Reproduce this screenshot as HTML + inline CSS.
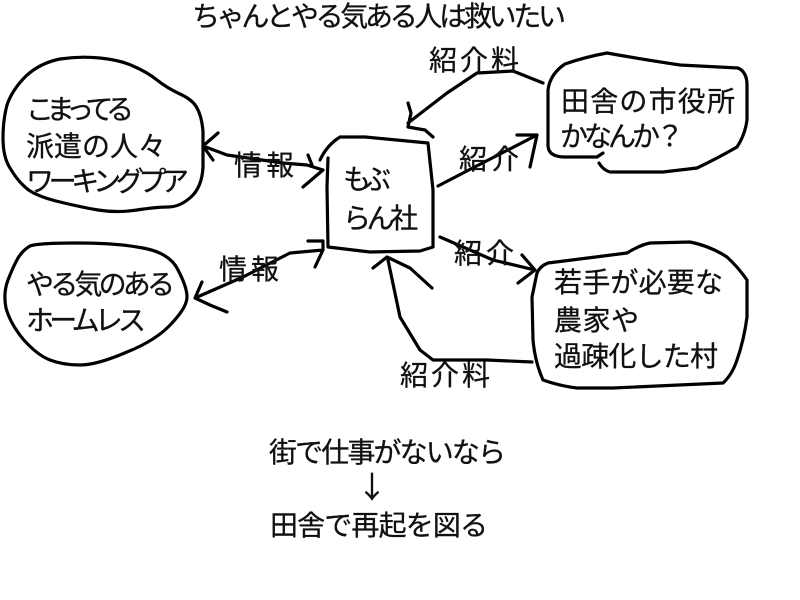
<!DOCTYPE html>
<html><head><meta charset="utf-8"><style>
html,body{margin:0;padding:0;background:#fff}
svg{display:block}
text{font-family:"Liberation Sans","Noto Sans CJK JP",sans-serif;font-size:28px;fill:#111;stroke:#111;stroke-width:.3}
path{fill:none;stroke:#000;stroke-width:3.2;stroke-linejoin:round;stroke-linecap:round}
</style></head><body>
<svg width="800" height="600" viewBox="0 0 800 600" xmlns="http://www.w3.org/2000/svg">
<rect width="800" height="600" fill="#fff" style="stroke:none"/>
<path d="M100,58 Q120,60 133,66 Q147,72 157,80 Q167,88 180,94 Q193,100 197,108 Q202,117 203,132 Q203,147 203,167 Q202,187 191,197 Q180,207 168,207 Q157,207 137,210 Q117,213 98,210 Q80,207 56,201 Q33,195 25,187 Q17,180 10,168 Q3,157 3,138 Q3,120 7,105 Q12,90 26,76 Q40,63 60,59 Q80,56 100,58 Z"/>
<path d="M77,243 Q117,243 143,248 Q170,253 178,270 Q187,287 187,297 Q187,307 172,323 Q157,340 127,352 Q97,365 80,365 Q63,365 50,360 Q37,355 23,339 Q10,323 6,308 Q3,293 8,280 Q13,267 18,258 Q23,250 30,246 Q38,243 77,243 Z"/>
<path d="M320,160 Q327,145 340,137 L365,137 L428,143 L433,190 L433,247 L420,251 L370,252 L328,247 L327,187 L328,158"/>
<path d="M537,273 Q540,266 548,263 L627,253 Q640,245 650,243 L690,242 Q710,246 727,257 Q738,267 747,280 L747,317 Q744,340 737,360 Q732,375 723,383 L613,388 L577,388 Q560,386 543,380 Q535,362 533,340 L532,297 Z"/>
<path d="M603,153 L597,157 L565,157 Q548,157 548,145 L548,90 Q550,74 565,64 Q585,57 607,53 Q640,59 680,65 L738,68 Q747,72 747,85 L747,120 Q745,135 737,147 Q718,158 697,168 L663,172 L610,172 Q603,170 599,163"/>
<path d="M203,146 L227,155 L283,163 L307,165 L323,170 M218,133 L203,146 L213,160 M308,155 L312,165 M323,170 L303,187"/>
<path d="M195,298 L243,277 L290,253 L323,250 M202,282 L195,298 L210,305 L227,312 M308,241 L323,241 L323,250 L315,267"/>
<path d="M543,83 L513,71 L477,73 L447,93 L408,123 M408,103 L411,113 L408,127 L425,130 L433,137"/>
<path d="M438,186 L463,173 L537,135 M517,135 L537,135 L530,167"/>
<path d="M440,237 L493,260 L535,270 M522,255 L535,270 L518,283"/>
<path d="M532,362 L487,360 L433,360 L420,350 L400,317 L388,260 M373,268 L387,257 L410,268 L432,288"/>
<text x="192" y="26" textLength="374" lengthAdjust="spacing">ちゃんとやる気ある人は救いたい</text>
<text x="26" y="119" textLength="108" lengthAdjust="spacing">こまってる</text>
<text x="26" y="156" textLength="140" lengthAdjust="spacing">派遣の人々</text>
<text x="26" y="191" textLength="163" lengthAdjust="spacing">ワーキングプア</text>
<text x="26" y="294" textLength="149" lengthAdjust="spacing">やる気のある</text>
<text x="26" y="330" textLength="120" lengthAdjust="spacing">ホームレス</text>
<text x="343" y="189" textLength="48" lengthAdjust="spacing">もぶ</text>
<text x="343" y="228" textLength="75" lengthAdjust="spacing">らん社</text>
<text x="561" y="111" textLength="174" lengthAdjust="spacing">田舎の市役所</text>
<text x="560" y="146" textLength="124" lengthAdjust="spacing">かなんか？</text>
<text x="554" y="292" textLength="169" lengthAdjust="spacing">若手が必要な</text>
<text x="554" y="330" textLength="85" lengthAdjust="spacing">農家や</text>
<text x="554" y="366" textLength="164" lengthAdjust="spacing">過疎化した村</text>
<text x="234" y="175" textLength="60" lengthAdjust="spacing">情報</text>
<text x="219" y="279" textLength="60" lengthAdjust="spacing">情報</text>
<text x="429" y="70" textLength="90" lengthAdjust="spacing">紹介料</text>
<text x="459" y="169" textLength="60" lengthAdjust="spacing">紹介</text>
<text x="454" y="263" textLength="60" lengthAdjust="spacing">紹介</text>
<text x="400" y="385" textLength="90" lengthAdjust="spacing">紹介料</text>
<text x="269" y="462" textLength="237" lengthAdjust="spacing">街で仕事がないなら</text>
<text x="372" y="498" text-anchor="middle" style="font-family:'Noto Sans CJK JP',sans-serif;font-size:30px">↓</text>
<text x="270" y="535" textLength="218" lengthAdjust="spacing">田舎で再起を図る</text>
</svg>
</body></html>
